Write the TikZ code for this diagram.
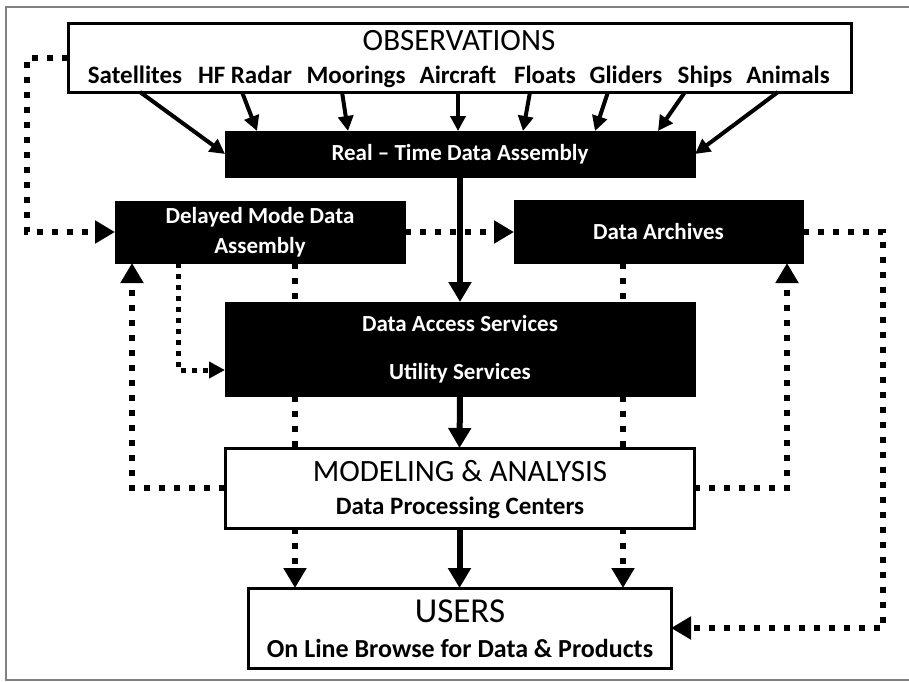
\documentclass[tikz,border=0pt]{standalone}
\usepackage{fontspec}
\setmainfont{Carlito}
\usetikzlibrary{arrows.meta}

\begin{document}
\begin{tikzpicture}[x=0.5pt, y=-0.5pt,
        box/.style={draw=black, line width=1.5pt, fill=white, inner sep=0pt, outer sep=0pt},
        blackbox/.style={draw=black, fill=black, inner sep=0pt, outer sep=0pt, text=white, align=center,
          font=\fontsize{11.5}{15}\selectfont\bfseries},
        title/.style={font=\fontsize{15.5}{18}\selectfont, anchor=mid},
        sub/.style={font=\fontsize{12.5}{15}\selectfont\bfseries, anchor=mid},
        feed/.style={line width=2pt, -{Triangle[length=7.5pt, width=7.5pt]}},
        main/.style={line width=3pt, -{Triangle[length=10pt, width=11pt]}},
        dots/.style={line width=3pt, dash pattern=on 3pt off 4.5pt},
        dotarrow/.style={dots, -{Triangle[length=10pt, width=11pt]}},
        smalldots/.style={line width=2.5pt, dash pattern=on 2.5pt off 3pt, -{Triangle[length=8pt, width=8pt]}}]
        \useasboundingbox (0,0) rectangle (909,681);
        % frame
        \draw[gray, line width=1pt] (915,7) -- (6,7) -- (6,680) -- (915,680);

        % observations
        \node[box, minimum width=391.5pt, minimum height=34.5pt] (obs) at (459.5,57.5) {};
        \node[title] (obstitle) at (459,46) {OBSERVATIONS};
        \foreach \x/\txt [count=\i] in {135/Satellites, 245/HF Radar, 356/Moorings, 458/Aircraft,
                                        545/Floats, 626/Gliders, 705/Ships, 788/Animals} {
          \node[sub] (item\i) at (\x,79) {\txt};
        }

        % black boxes
        \node[blackbox, minimum width=235pt, minimum height=23pt] (rt) at (460,154) {Real -- Time Data Assembly};
        \node[blackbox, minimum width=145pt, minimum height=31pt] (dma) at (260,232) {Delayed Mode Data\\Assembly};
        \node[blackbox, minimum width=144.5pt, minimum height=31.5pt] (arch) at (658.5,231.5) {Data Archives};
        \node[blackbox, minimum width=235pt, minimum height=47pt] (das) at (460,349) {Data Access Services\\[9pt]Utility Services};

        % modeling, users
        \node[box, minimum width=234.5pt, minimum height=40pt] (model) at (459.5,488) {};
        \node[title] (modeltitle) at (460,477) {MODELING \& ANALYSIS};
        \node[sub] (modelsub) at (460,510) {Data Processing Centers};
        \node[box, minimum width=211.5pt, minimum height=40pt] (users) at (459.5,628) {};
        \node[title, font=\fontsize{17.5}{20}\selectfont] (userstitle) at (460,618) {USERS};
        \node[sub, font=\fontsize{13}{15}\selectfont\bfseries] (userssub) at (460,653) {On Line Browse for Data \& Products};

        % feeds into real time assembly
        \draw[feed] (obs.south -| 140,0) -- (rt.west);
        \foreach \sx/\ex in {242/257, 342/348, 458/458, 530/523, 608/595, 685/658} {
          \draw[feed] (obs.south -| \sx,0) -- (rt.north -| \ex,0);
        }
        \draw[feed] (obs.south -| 778,0) -- (rt.east);

        % main flow
        \draw[main] (rt.south) -- (das.north);
        \draw[main] (das.south) -- (model.north);
        \draw[main] (model.south) -- (users.north);

        % delayed mode loops
        \draw[dotarrow] (obs.west) -- (obs.west -| 27,0) |- (dma.west);
        \draw[dotarrow] (dma.east) -- (dma.east -| arch.west);
        \draw[dotarrow] (arch.east) -- (arch.east -| 883,0) |- (users.east);
        \draw[smalldots] (dma.south -| 178,0) |- (das.west |- 0,370);
        \draw[dotarrow] (model.west) -| (dma.south -| 132,0);
        \draw[dotarrow] (model.east) -| (arch.south -| 787,0);

        \draw[dots] (dma.south -| 295,0) -- (das.north -| 295,0);
        \draw[dots] (arch.south -| 623,0) -- (das.north -| 623,0);
        \foreach \x in {295,623} {
          \draw[dots] (das.south -| \x,0) -- (model.north -| \x,0);
          \draw[dotarrow] (model.south -| \x,0) -- (users.north -| \x,0);
        }
\end{tikzpicture}
\end{document}
